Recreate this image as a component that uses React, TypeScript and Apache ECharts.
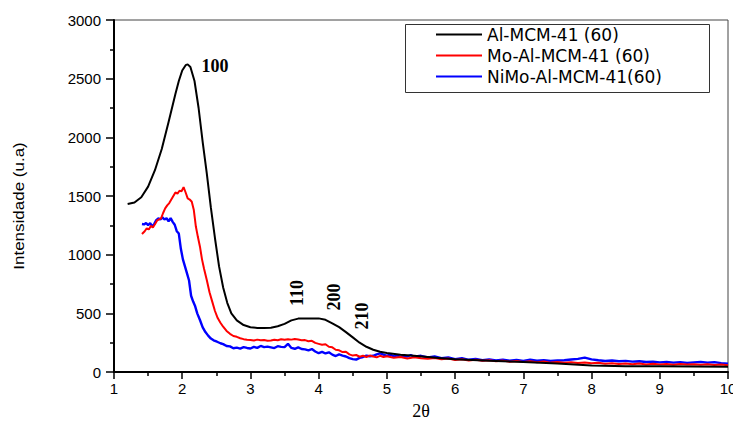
import React, { useEffect, useRef } from "react";
import * as echarts from "echarts";

const seriesNames = ["Al-MCM-41 (60)", "Mo-Al-MCM-41 (60)", "NiMo-Al-MCM-41(60)"];
const seriesColors = ["#000000", "#ff0000", "#0000ff"];
const seriesWidths = [2, 2, 2.4];

const xMin = 1;
const xMax = 10;
const xInterval = 1;
const yMin = 0;
const yMax = 3000;
const yInterval = 500;

const alMcm: [number, number][] = [
  [1.2, 1432], [1.3, 1445], [1.4, 1490], [1.5, 1580], [1.6, 1720], [1.7, 1900],
  [1.8, 2130], [1.9, 2370], [1.95, 2480], [2.0, 2570], [2.05, 2615], [2.08, 2622],
  [2.12, 2600], [2.18, 2480], [2.24, 2250], [2.3, 1960], [2.36, 1693], [2.42, 1400],
  [2.48, 1140], [2.54, 900], [2.6, 720], [2.66, 590], [2.72, 500], [2.8, 440],
  [2.9, 400], [3.0, 382], [3.1, 376], [3.2, 375], [3.3, 378], [3.4, 390],
  [3.5, 410], [3.6, 440], [3.7, 455], [3.8, 456], [3.9, 455], [4.0, 457],
  [4.1, 445], [4.2, 415], [4.3, 382], [4.4, 340], [4.5, 295], [4.6, 250],
  [4.7, 215], [4.8, 190], [4.9, 172], [5.0, 162], [5.2, 148], [5.4, 138],
  [5.6, 128], [5.8, 118], [6.0, 108], [6.5, 95], [7.0, 85], [7.5, 72],
  [8.0, 56], [8.5, 50], [9.0, 48], [9.5, 46], [10, 44],
];

const moAlMcm: [number, number][] = [
  [1.41, 1176], [1.45, 1200], [1.48, 1225], [1.51, 1215], [1.54, 1245], [1.57, 1232],
  [1.6, 1260], [1.63, 1290], [1.66, 1300], [1.69, 1310], [1.72, 1355], [1.75, 1395],
  [1.78, 1420], [1.81, 1440], [1.84, 1470], [1.87, 1500], [1.9, 1530], [1.93, 1520],
  [1.96, 1545], [1.99, 1540], [2.02, 1576], [2.05, 1530], [2.08, 1480], [2.11, 1470],
  [2.14, 1451], [2.17, 1380], [2.2, 1240], [2.23, 1150], [2.26, 1068], [2.29, 960],
  [2.32, 880], [2.36, 784], [2.4, 680], [2.44, 600], [2.48, 520], [2.52, 460],
  [2.56, 420], [2.6, 386], [2.65, 350], [2.7, 325], [2.75, 307], [2.8, 300],
  [2.85, 288], [2.9, 280], [2.95, 275], [3.0, 273], [3.05, 268], [3.1, 276],
  [3.15, 270], [3.2, 272], [3.25, 266], [3.3, 269], [3.35, 275], [3.4, 270],
  [3.45, 279], [3.5, 274], [3.55, 280], [3.6, 276], [3.65, 282], [3.7, 277],
  [3.75, 270], [3.8, 272], [3.85, 262], [3.9, 266], [3.95, 248], [4.0, 240],
  [4.05, 232], [4.1, 236], [4.15, 215], [4.2, 210], [4.25, 190], [4.3, 185],
  [4.35, 170], [4.4, 172], [4.45, 150], [4.5, 140], [4.55, 145], [4.6, 130],
  [4.65, 138], [4.7, 128], [4.75, 140], [4.8, 132], [4.85, 125], [4.9, 138],
  [4.95, 128], [5.0, 135], [5.1, 122], [5.2, 128], [5.3, 115], [5.4, 125],
  [5.5, 118], [5.6, 112], [5.7, 120], [5.8, 108], [5.9, 115], [6.0, 102],
  [6.1, 108], [6.2, 98], [6.3, 104], [6.4, 95], [6.5, 100], [6.6, 92],
  [6.7, 97], [6.8, 88], [6.9, 94], [7.0, 86], [7.1, 92], [7.2, 84],
  [7.3, 90], [7.4, 80], [7.5, 86], [7.6, 78], [7.7, 84], [7.8, 76],
  [7.9, 80], [8.0, 74], [8.1, 78], [8.2, 70], [8.3, 75], [8.4, 68],
  [8.5, 73], [8.6, 66], [8.7, 72], [8.8, 64], [8.9, 70], [9.0, 65],
  [9.1, 69], [9.2, 62], [9.3, 68], [9.4, 63], [9.5, 67], [9.6, 61],
  [9.7, 66], [9.8, 60], [9.9, 64], [10, 58],
];

const niMoAlMcm: [number, number][] = [
  [1.41, 1261], [1.44, 1258], [1.47, 1270], [1.5, 1252], [1.53, 1268], [1.56, 1240],
  [1.59, 1262], [1.62, 1295], [1.65, 1310], [1.68, 1300], [1.71, 1318], [1.74, 1300],
  [1.77, 1310], [1.8, 1285], [1.83, 1312], [1.86, 1280], [1.89, 1255], [1.92, 1200],
  [1.95, 1180], [1.98, 1050], [2.01, 960], [2.04, 900], [2.07, 841], [2.1, 780],
  [2.13, 650], [2.16, 600], [2.19, 560], [2.22, 500], [2.26, 443], [2.3, 380],
  [2.34, 340], [2.38, 310], [2.42, 285], [2.46, 270], [2.51, 258], [2.56, 245],
  [2.6, 238], [2.65, 222], [2.7, 218], [2.75, 202], [2.8, 208], [2.85, 200],
  [2.9, 212], [2.95, 205], [3.0, 200], [3.05, 214], [3.1, 206], [3.15, 222],
  [3.2, 212], [3.25, 216], [3.3, 210], [3.35, 204], [3.4, 220], [3.45, 214],
  [3.5, 212], [3.55, 240], [3.6, 205], [3.65, 198], [3.7, 210], [3.75, 196],
  [3.8, 193], [3.85, 185], [3.9, 196], [3.95, 175], [4.0, 160], [4.05, 172],
  [4.1, 158], [4.15, 168], [4.2, 148], [4.25, 136], [4.3, 150], [4.35, 140],
  [4.4, 132], [4.45, 118], [4.5, 110], [4.55, 106], [4.6, 120], [4.65, 128],
  [4.7, 140], [4.75, 134], [4.8, 138], [4.85, 150], [4.9, 158], [4.95, 148],
  [5.0, 138], [5.05, 150], [5.1, 132], [5.15, 142], [5.2, 128], [5.25, 140],
  [5.3, 132], [5.35, 145], [5.4, 130], [5.5, 138], [5.6, 125], [5.7, 132],
  [5.8, 118], [5.9, 124], [6.0, 110], [6.1, 118], [6.2, 104], [6.3, 112],
  [6.4, 100], [6.5, 108], [6.6, 98], [6.7, 105], [6.8, 96], [6.9, 102],
  [7.0, 95], [7.1, 104], [7.2, 96], [7.3, 100], [7.4, 94], [7.5, 98],
  [7.6, 100], [7.7, 106], [7.8, 112], [7.9, 122], [8.0, 108], [8.1, 100],
  [8.2, 94], [8.3, 98], [8.4, 92], [8.5, 95], [8.6, 88], [8.7, 92],
  [8.8, 85], [8.9, 88], [9.0, 82], [9.1, 86], [9.2, 80], [9.3, 84],
  [9.4, 78], [9.5, 82], [9.6, 86], [9.7, 80], [9.8, 84], [9.9, 76],
  [10, 70],
];

const peakLabels = [
  { text: "100", x: 2.48, y: 2608, rotate: 0 },
  { text: "110", x: 3.68, y: 673, rotate: 90 },
  { text: "200", x: 4.22, y: 639, rotate: 90 },
  { text: "210", x: 4.64, y: 477, rotate: 90 },
];

const xAxisName = "2θ";
const yAxisName = "Intensidade (u.a)";

export default function App() {
  const ref = useRef<HTMLDivElement>(null);

  useEffect(() => {
    if (!ref.current) return;
    const chart = echarts.init(ref.current, null, { renderer: "svg" });
    const dataSets = [alMcm, moAlMcm, niMoAlMcm];
    const sansFont = "'Liberation Sans', Arial, sans-serif";
    const wideSans = "'DejaVu Sans', 'Liberation Sans', Arial, sans-serif";
    const serifFont = "'Liberation Serif', 'Times New Roman', serif";

    const series: any[] = dataSets.map((d, i) => ({
      name: seriesNames[i],
      type: "line",
      data: d,
      symbol: "none",
      smooth: false,
      z: 5 - i,
      lineStyle: { color: seriesColors[i], width: seriesWidths[i] },
      itemStyle: { color: seriesColors[i] },
      ...(i === 0
        ? {
            markPoint: {
              symbol: "circle",
              symbolSize: 0,
              silent: true,
              data: peakLabels.map((p) => ({
                coord: [p.x, p.y],
                label: {
                  show: true,
                  formatter: p.text,
                  position: "inside",
                  rotate: p.rotate,
                  color: "#000",
                  fontFamily: serifFont,
                  fontWeight: "bold",
                  fontSize: 18,
                },
              })),
            },
          }
        : {}),
    }));

    chart.setOption({
      animation: false,
      backgroundColor: "#ffffff",
      grid: {
        left: 114,
        right: 5,
        top: 20,
        bottom: 51,
        show: true,
        borderColor: "#444",
        borderWidth: 1,
        containLabel: false,
        outerBoundsMode: "none",
      },
      legend: {
        orient: "vertical",
        left: 436,
        top: 26,
        padding: 0,
        itemGap: 4,
        itemWidth: 46,
        itemHeight: 2,
        icon: "rect",
        data: seriesNames,
        textStyle: {
          fontFamily: wideSans,
          fontSize: 17,
          lineHeight: 17,
          color: "#000",
        },
      },
      graphic: [
        {
          type: "rect",
          left: 403,
          top: 22,
          shape: { width: 304, height: 68 },
          style: { fill: "none", stroke: "#333", lineWidth: 1 },
          z: 10,
        },
        {
          type: "text",
          x: 18.5,
          y: 206,
          rotation: Math.PI / 2,
          scaleY: 0.85,
          style: {
            text: yAxisName,
            fontFamily: sansFont,
            fontSize: 17,
            fill: "#000",
            align: "center",
            verticalAlign: "middle",
          },
        },
      ],
      xAxis: {
        type: "value",
        min: xMin,
        max: xMax,
        interval: xInterval,
        name: xAxisName,
        nameLocation: "middle",
        nameGap: 30,
        nameTextStyle: { fontFamily: serifFont, fontSize: 18, color: "#000" },
        axisLine: { show: true, onZero: false, lineStyle: { color: "#000", width: 2 } },
        axisTick: { show: true, inside: false, length: 7, lineStyle: { color: "#000", width: 1.5 } },
        minorTick: { show: true, splitNumber: 2, length: 4, lineStyle: { color: "#000", width: 1.5 } },
        splitLine: { show: false },
        axisLabel: { fontFamily: sansFont, fontSize: 15, color: "#000", margin: 9 },
      },
      yAxis: {
        type: "value",
        min: yMin,
        max: yMax,
        interval: yInterval,
        axisLine: { show: true, onZero: false, lineStyle: { color: "#000", width: 2 } },
        axisTick: { show: true, inside: false, length: 8, lineStyle: { color: "#000", width: 1.5 } },
        minorTick: { show: true, splitNumber: 2, length: 4, lineStyle: { color: "#000", width: 1.5 } },
        splitLine: { show: false },
        axisLabel: {
          fontFamily: sansFont,
          fontSize: 15,
          color: "#000",
          margin: 13,
          formatter: (v: number) => String(v),
        },
      },
      series,
    });

    return () => chart.dispose();
  }, []);

  return (
    <div
      ref={ref}
      style={{ position: "fixed", left: 0, top: 0, width: 733, height: 423, background: "#fff" }}
    />
  );
}
